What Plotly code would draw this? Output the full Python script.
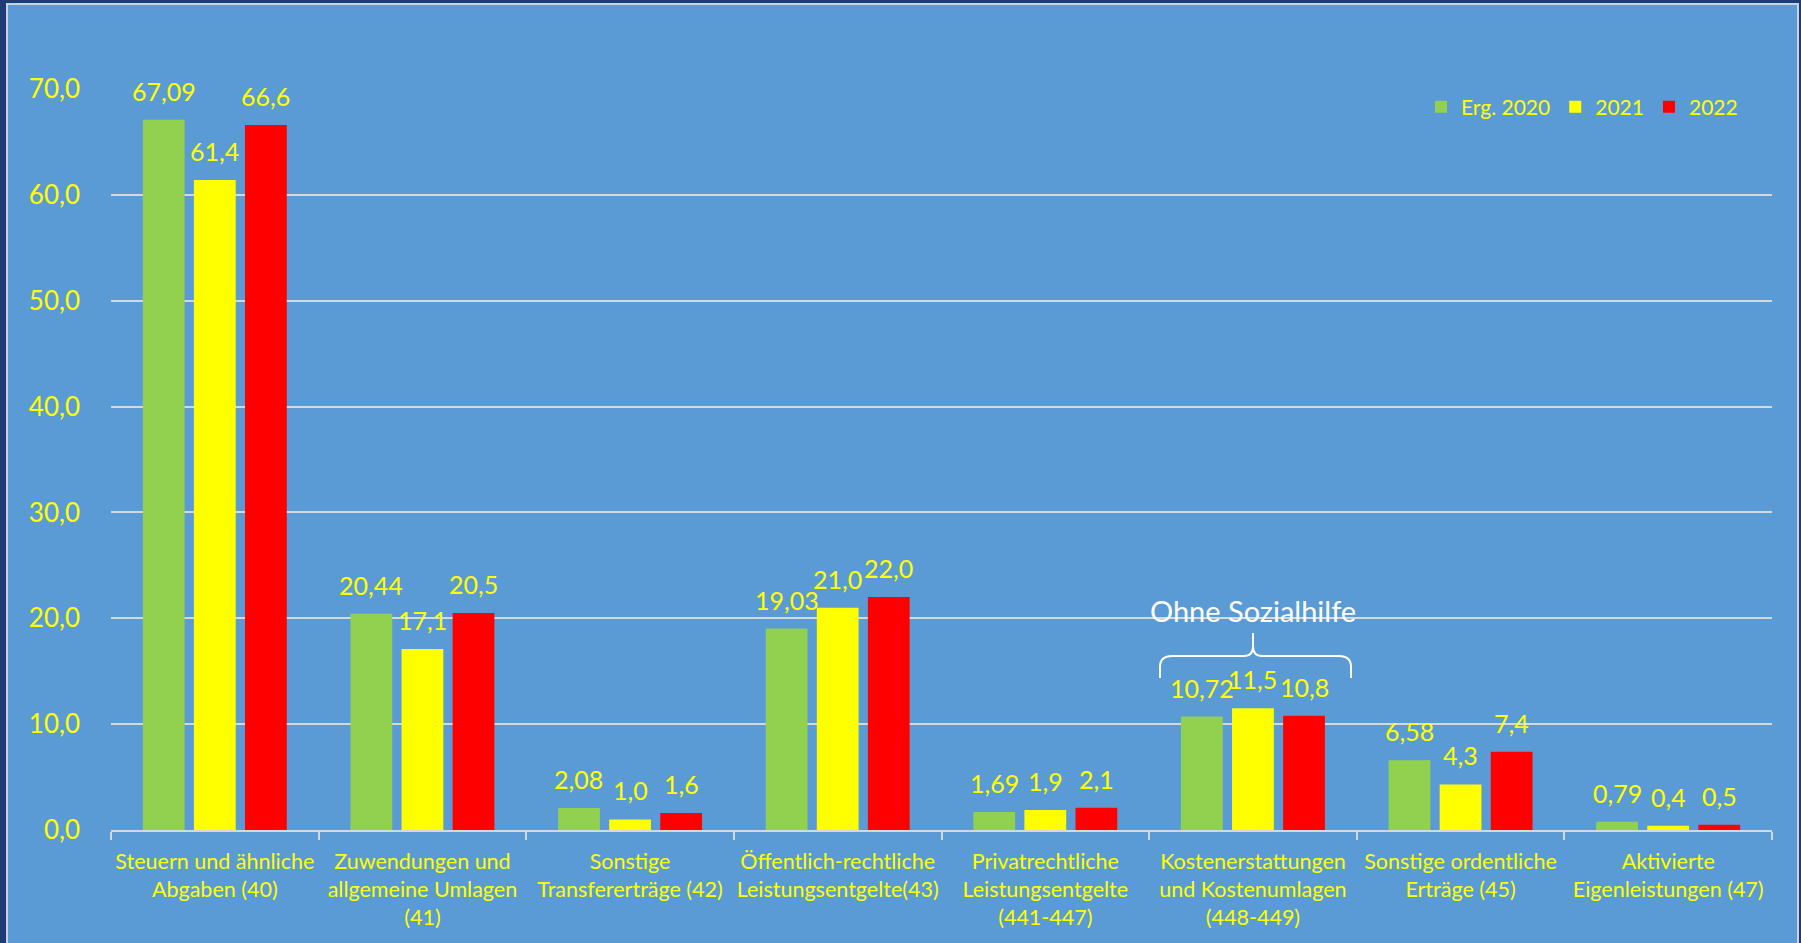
import plotly.graph_objects as go

# Ertragsarten (Kontengruppen) with values in Mio. EUR
categories = [
    "Steuern und ähnliche<br>Abgaben (40)",
    "Zuwendungen und<br>allgemeine Umlagen<br>(41)",
    "Sonstige<br>Transfererträge (42)",
    "Öffentlich-rechtliche<br>Leistungsentgelte(43)",
    "Privatrechtliche<br>Leistungsentgelte<br>(441-447)",
    "Kostenerstattungen<br>und Kostenumlagen<br>(448-449)",
    "Sonstige ordentliche<br>Erträge (45)",
    "Aktivierte<br>Eigenleistungen (47)",
]
erg_2020 = [67.09, 20.44, 2.08, 19.03, 1.69, 10.72, 6.58, 0.79]
plan_2021 = [61.4, 17.1, 1.0, 21.0, 1.9, 11.5, 4.3, 0.4]
plan_2022 = [66.6, 20.5, 1.6, 22.0, 2.1, 10.8, 7.4, 0.5]
series_names = ["Erg. 2020", "2021", "2022"]
label_decimals = [2, 1, 1]
y_ticks = [0, 10, 20, 30, 40, 50, 60, 70]

# Styling
BLUE = "#5B9BD5"
NAVY = "#1F3B76"
GRID = "#D4D9E0"
TEXT_YELLOW = "#FFFF00"
COLORS = ["#92D050", "#FFFF00", "#FF0000"]
FONT = "Lato, 'Open Sans', sans-serif"

# Canvas and plot-area geometry (pixels)
W, H = 1801, 943
L, R, T, B = 111, 29, 89, 113
PW = W - L - R
PH = H - T - B
BARGAP = 0.262
BARGROUPGAP = 0.182


def fx(px):
    """Pixel x -> paper x."""
    return (px - L) / PW


def fy(py):
    """Pixel y (from top) -> paper y."""
    return (H - B - py) / PH


def de_number(v, decimals):
    return f"{v:.{decimals}f}".replace(".", ",")


fig = go.Figure()

all_series = [erg_2020, plan_2021, plan_2022]
for name, vals, color in zip(series_names, all_series, COLORS):
    fig.add_trace(go.Bar(
        name=name,
        x=categories,
        y=vals,
        marker=dict(color=color, line=dict(width=0)),
        hoverinfo="x+y+name",
    ))

# Value labels above each bar, shifted to the bar's slot within the group
slot_px = PW / len(categories) * (1 - BARGAP) / len(all_series)
annotations = []
for i, (vals, dec) in enumerate(zip(all_series, label_decimals)):
    shift = (i - (len(all_series) - 1) / 2) * slot_px
    for cat, v in zip(categories, vals):
        annotations.append(dict(
            x=cat, y=v, xref="x", yref="y",
            text=de_number(v, dec),
            showarrow=False, xanchor="center", yanchor="bottom",
            xshift=shift, yshift=12,
            font=dict(family=FONT, size=25, color=TEXT_YELLOW),
        ))

# Panel with light border on the dark frame
shapes = [
    dict(type="rect", xref="paper", yref="paper",
         x0=fx(7), x1=fx(1798), y0=fy(4), y1=fy(980),
         fillcolor=BLUE, line=dict(color="#C8D2E2", width=2), layer="below"),
]

# Curly brace over the "Kostenerstattungen" group
bx0, bx1, bxc = 1160, 1351, 1253
by_line, by_end, by_tip = 656, 678, 633
brace = (
    f"M {fx(bx0)},{fy(by_end)} "
    f"L {fx(bx0)},{fy(by_line + 11)} "
    f"Q {fx(bx0)},{fy(by_line)} {fx(bx0 + 12)},{fy(by_line)} "
    f"L {fx(bxc - 9)},{fy(by_line)} "
    f"Q {fx(bxc)},{fy(by_line)} {fx(bxc)},{fy(by_line - 10)} "
    f"L {fx(bxc)},{fy(by_tip)} "
    f"M {fx(bxc)},{fy(by_line - 10)} "
    f"Q {fx(bxc)},{fy(by_line)} {fx(bxc + 9)},{fy(by_line)} "
    f"L {fx(bx1 - 12)},{fy(by_line)} "
    f"Q {fx(bx1)},{fy(by_line)} {fx(bx1)},{fy(by_line + 11)} "
    f"L {fx(bx1)},{fy(by_end)}"
)
shapes.append(dict(type="path", xref="paper", yref="paper", path=brace,
                   line=dict(color="white", width=2), layer="above"))

annotations.append(dict(
    text="Ohne Sozialhilfe", xref="paper", yref="paper",
    x=fx(bxc), y=fy(610), xanchor="center", yanchor="middle",
    showarrow=False, font=dict(family=FONT, size=29, color="white"),
))

fig.update_layout(
    width=W, height=H,
    margin=dict(l=L, r=R, t=T, b=B, pad=0, autoexpand=False),
    paper_bgcolor=NAVY,
    plot_bgcolor="rgba(0,0,0,0)",
    separators=",.",
    barmode="group",
    bargap=BARGAP,
    bargroupgap=BARGROUPGAP,
    shapes=shapes,
    annotations=annotations,
    showlegend=True,
    legend=dict(
        orientation="h",
        x=fx(1743), xanchor="right",
        y=fy(107), yanchor="middle",
        bgcolor="rgba(0,0,0,0)",
        font=dict(family=FONT, size=21, color=TEXT_YELLOW),
        itemwidth=30,
        traceorder="normal",
    ),
    xaxis=dict(
        type="category",
        automargin=False,
        tickangle=0,
        showgrid=False,
        showline=True, linecolor=GRID, linewidth=2,
        ticks="outside", tickson="boundaries", ticklen=8, tickcolor=GRID, tickwidth=2,
        ticklabelstandoff=11,
        tickfont=dict(family=FONT, size=21.5, color=TEXT_YELLOW),
        fixedrange=True,
    ),
    yaxis=dict(
        automargin=False,
        range=[0, 70],
        tickvals=y_ticks,
        tickformat=".1f",
        showgrid=True, gridcolor=GRID, gridwidth=2,
        zeroline=False,
        showline=False,
        ticks="",
        ticklabelstandoff=30,
        tickfont=dict(family=FONT, size=26, color=TEXT_YELLOW),
        fixedrange=True,
    ),
)

fig.write_html("out.html")
